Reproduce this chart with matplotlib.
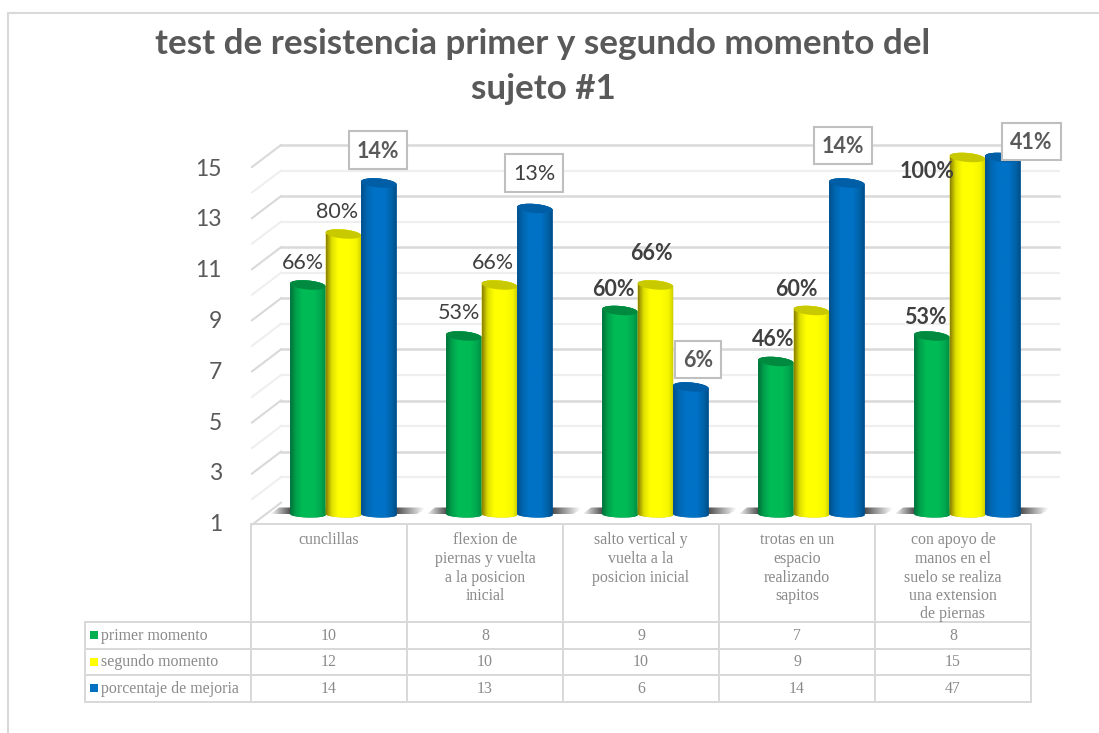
import numpy as np
import matplotlib
matplotlib.use("Agg")
import matplotlib.pyplot as plt
from matplotlib.colors import LinearSegmentedColormap
from matplotlib.patches import Polygon, Rectangle

# ---------- data ----------
title_lines = ["test de resistencia primer y segundo momento del", "sujeto #1"]
categories = ["cunclillas",
              "flexion de\npiernas y vuelta\na la posicion\ninicial",
              "salto vertical y\nvuelta a la\nposicion inicial",
              "trotas en un\nespacio\nrealizando\nsapitos",
              "con apoyo de\nmanos en el\nsuelo se realiza\nuna extension\nde piernas"]
series_names = ["primer momento", "segundo momento", "porcentaje de mejoria"]
primer = [10, 8, 9, 7, 8]
segundo = [12, 10, 10, 9, 15]
mejoria = [14, 13, 6, 14, 47]
labels_primer = ["66%", "53%", "60%", "46%", "53%"]
labels_segundo = ["80%", "66%", "66%", "60%", "100%"]
labels_mejoria = ["14%", "13%", "6%", "14%", "41%"]
y_ticks = [1, 3, 5, 7, 9, 11, 13, 15]
y_min, y_max = 1, 15

# ---------- styles ----------
W, H = 1099, 733
GRID_D, GRID_L, TABLE = "#d9d9d9", "#efefef", "#d9d9d9"
TXT, LBL, TBL = "#595959", "#404040", "#8a8a8a"
stops = [
    (["#00703a", "#00a04c", "#00bb55", "#00bb55", "#00a850", "#008a42"], "#008a40", "#00b050"),
    (["#8a8000", "#e0e000", "#ffff00", "#ffff00", "#f4f400", "#c8c800"], "#c9c900", "#ffff00"),
    (["#004f8a", "#0066b0", "#0072c6", "#0072c6", "#0062a8", "#004c86"], "#005ea6", "#0070c0"),
]
lw_px = 2 * 0.72

fig = plt.figure(figsize=(W / 100, H / 100), dpi=100, facecolor="white")
bg = fig.add_axes([0, 0, 1, 1], zorder=0)
bg.set_xlim(0, W); bg.set_ylim(H, 0); bg.axis("off")

# data axes: index -> pixel x = 343 + 156 i ; value -> pixel y = 285 - 25.5 (v - 10)
ax = fig.add_axes([0, 0, 1, 1], zorder=1)
ax.patch.set_alpha(0); ax.axis("off")
xlim = ((0 - 343) / 156, (W - 343) / 156)
ylim = (10 + (285 - H) / 25.5, 10 + 285 / 25.5)
ax.set_xlim(*xlim); ax.set_ylim(*ylim)
PX_X, PX_Y = 1 / 156, 1 / 25.5

# chart frame
bg.plot([7.5, 7.5, W], [H, 12.5, 12.5], color=GRID_D, lw=1.5, solid_joinstyle="miter")

# back wall and side wall
back = lambda v: 145 + (15 - v) * 25.55
for v in range(y_min, y_max + 1):
    c = GRID_D if v % 2 else GRID_L
    b = back(v)
    bg.plot([252, 281], [b + 22, b], color=c, lw=1.5, zorder=2)
    if v > y_min:
        bg.plot([281, 1059], [b, b], color=c, lw=1.8 if v % 2 else 1.6, zorder=2)

# tick labels
for v in y_ticks:
    bg.text(222, 169 + (15 - v) * 25.4, str(v), ha="right", va="center",
            family="Lato", fontsize=16.5, color=TXT)

# floor shadows
for i in range(len(categories)):
    xl, xr = 270 + 156 * i, 428 + 156 * i
    poly = Polygon([(xl + 9, 507.5), (xr, 507.5), (xr - 12, 514.5), (xl, 514.5)],
                   closed=True, transform=bg.transData, fc="none", ec="none")
    bg.add_patch(poly)
    xs = np.linspace(0, 1, 160)
    alpha = np.interp(xs, [0, 0.13, 0.8, 0.98], [0, 0.95, 0.95, 0])
    rgba = np.ones((1, 160, 4))
    rgba[..., :3] = 0.25
    rgba[..., 3] = alpha
    im = bg.imshow(rgba, extent=[xl, xr, 514.5, 507.5], aspect="auto", zorder=3, interpolation="bilinear")
    im.set_clip_path(poly)
bg.set_xlim(0, W); bg.set_ylim(H, 0)

# cylinders
bw = 35.5 / 156
def ell(xc, yc, a, b, s, t):
    return xc + a * np.cos(t), yc + b * np.sin(t) + s * np.cos(t)

z = 5
for k, vals in enumerate([primer, segundo, mejoria]):
    grad, cap, _ = stops[k]
    cmap = LinearSegmentedColormap.from_list("c%d" % k, list(zip([0, .16, .34, .66, .86, 1], grad)))
    for i, val in enumerate(vals):
        v = min(val, y_max)
        xc = i + (k - 1) * bw + 0.4 * PX_X
        a = bw / 2
        t_top = np.linspace(np.pi, 0, 40)
        t_bot = np.linspace(0, -np.pi, 40)
        xt, yt = ell(xc, v, a, 4.5 * PX_Y, -1.5 * PX_Y, t_top)
        xb, yb = ell(xc, y_min, a, 3.0 * PX_Y, -0.5 * PX_Y, t_bot)
        body = Polygon(np.column_stack([np.r_[xt, xb], np.r_[yt, yb]]), closed=True, fc=cap, ec="none", zorder=z)
        ax.add_patch(body)
        im = ax.imshow(np.linspace(0, 1, 128)[None, :], cmap=cmap, vmin=0, vmax=1,
                       extent=[xc - a, xc + a, y_min - 1, v + 1], aspect="auto",
                       zorder=z + 0.1, interpolation="bilinear")
        im.set_clip_path(body)
        tt = np.linspace(0, 2 * np.pi, 80)
        xe, ye = ell(xc, v, a, 4.5 * PX_Y, -1.5 * PX_Y, tt)
        ax.add_patch(Polygon(np.column_stack([xe, ye]), closed=True, fc=cap, ec="none", zorder=z + 0.2))
        z += 1
ax.set_xlim(*xlim); ax.set_ylim(*ylim)

# data labels (pixel positions, drawn over everything)
top = fig.add_axes([0, 0, 1, 1], zorder=2)
top.patch.set_alpha(0); top.axis("off"); top.set_xlim(0, W); top.set_ylim(H, 0)
LF = 15.5
pos_primer = [(303, 263, "normal"), (459, 313, "normal"), (613, 289, "bold"), (773, 339, "bold"), (925, 318, "bold")]
pos_segundo = [(337, 212, "normal"), (493, 263, "normal"), (651, 254, "bold"), (796, 289, "bold"), (927, 171, "bold")]
for texts, pos in ((labels_primer, pos_primer), (labels_segundo, pos_segundo)):
    for s, (x, y, w) in zip(texts, pos):
        top.text(x, y, s, ha="center", va="center", family="Lato", fontsize=LF, fontweight=w, color=LBL)
boxes = [(349, 407, 131, 169, "bold"), (505, 563, 154, 192, "normal"), (675, 721, 341, 378, "bold"),
         (814, 872, 127, 164, "bold"), (1002, 1061, 123, 160, "bold")]
for s, (x0, x1, y0, y1, w) in zip(labels_mejoria, boxes):
    top.add_patch(Rectangle((x0, y0), x1 - x0, y1 - y0, fc="white", ec="#bfbfbf", lw=1.5, zorder=3))
    top.text((x0 + x1) / 2, (y0 + y1) / 2 + 1, s, ha="center", va="center", family="Lato",
             fontsize=LF, fontweight=w, color=TXT if w == "bold" else LBL, zorder=4)

# title
for s, y in zip(title_lines, (44, 89)):
    top.text(543, y, s, ha="center", va="center", family="Lato", fontweight="bold", fontsize=25.2, color=TXT)

# data table
col_x = [251 + 156 * i for i in range(6)]
row_y = [622, 649, 675, 702]
tkw = dict(color=TABLE, lw=lw_px, zorder=2, solid_capstyle="projecting")
top.plot([251, 1031], [524, 524], **tkw)
for x in col_x:
    top.plot([x, x], [524, 702], **tkw)
for y in row_y:
    top.plot([85, 1031], [y, y], **tkw)
top.plot([85, 85], [622, 702], **tkw)

serif = dict(family="Liberation Serif", fontsize=11.4, color=TBL, ha="center")
for i, c in enumerate(categories):
    for j, line in enumerate(c.split("\n")):
        top.text(329 + 156 * i, 540.5 + 18.5 * j, line, va="center", **serif)
for r, (name, vals) in enumerate(zip(series_names, [primer, segundo, mejoria])):
    cy = (row_y[r] + row_y[r + 1]) / 2
    top.add_patch(Rectangle((90, cy - 4.5), 8, 8, fc=stops[r][2], ec="none", zorder=3))
    top.text(101, cy + 0.5, name, va="center", ha="left", family="Liberation Serif", fontsize=11.4, color=TBL)
    for i, val in enumerate(vals):
        top.text(329 + 156 * i, cy + 0.5, str(val), va="center", **serif)

fig.savefig("out.png", dpi=100)
